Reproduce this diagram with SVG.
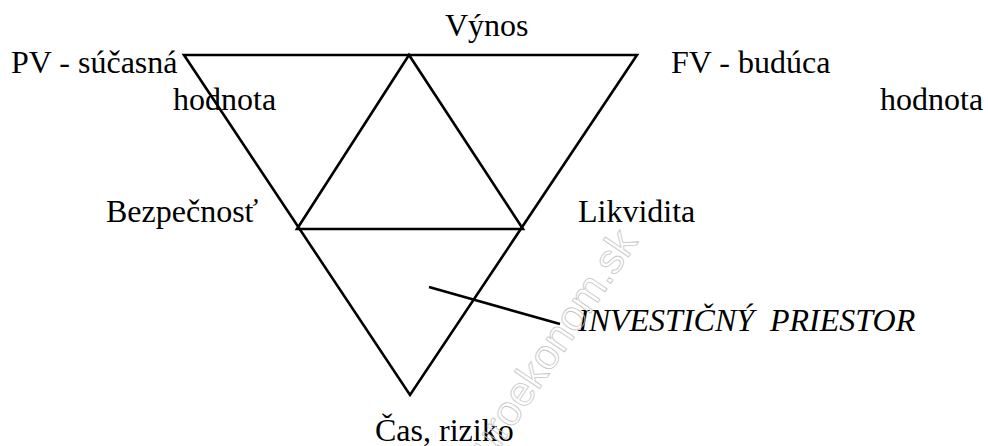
<svg xmlns="http://www.w3.org/2000/svg" width="988" height="446" viewBox="0 0 988 446">
  <style>
    .ln { fill: none; stroke: #000; stroke-width: 2.6; stroke-linejoin: miter; }
    .lbl { font-family: 'Liberation Serif', Tinos, 'Times New Roman', 'DejaVu Serif', serif; font-size: 32px; fill: #000; }
    .it { font-style: italic; }
    .wm { font-family: 'Liberation Sans', Arial, sans-serif; font-size: 42px; fill: none; stroke: #c4c4c4; stroke-width: 0.8; }
  </style>
  <rect width="988" height="446" fill="#fff"/>
  <g id="connectors">
    <polygon class="ln" points="184,55 637,55 410,395"/>
    <polygon class="ln" points="409,55 297,229 523,229"/>
    <line class="ln" x1="429" y1="287" x2="560" y2="324"/>
  </g>
  <g id="node-vynos"><text class="lbl" x="445" y="36">Výnos</text></g>
  <g id="node-pv"><text class="lbl" x="11" y="73">PV - súčasná</text><text class="lbl" x="173" y="110">hodnota</text></g>
  <g id="node-fv"><text class="lbl" x="671" y="73">FV - budúca</text><text class="lbl" x="880" y="110">hodnota</text></g>
  <g id="node-bezpecnost"><text class="lbl" x="106" y="222">Bezpečnosť</text></g>
  <g id="node-likvidita"><text class="lbl" x="578" y="222">Likvidita</text></g>
  <g id="node-cas"><text class="lbl" x="375" y="441">Čas, riziko</text></g>
  <g id="node-priestor"><text class="lbl it" x="578" y="331">INVESTIČNÝ<tspan x="770">PRIESTOR</tspan></text></g>
  <g id="watermark"><text class="wm" transform="translate(478,480) rotate(-56)">euroekonom.sk</text></g>
</svg>
